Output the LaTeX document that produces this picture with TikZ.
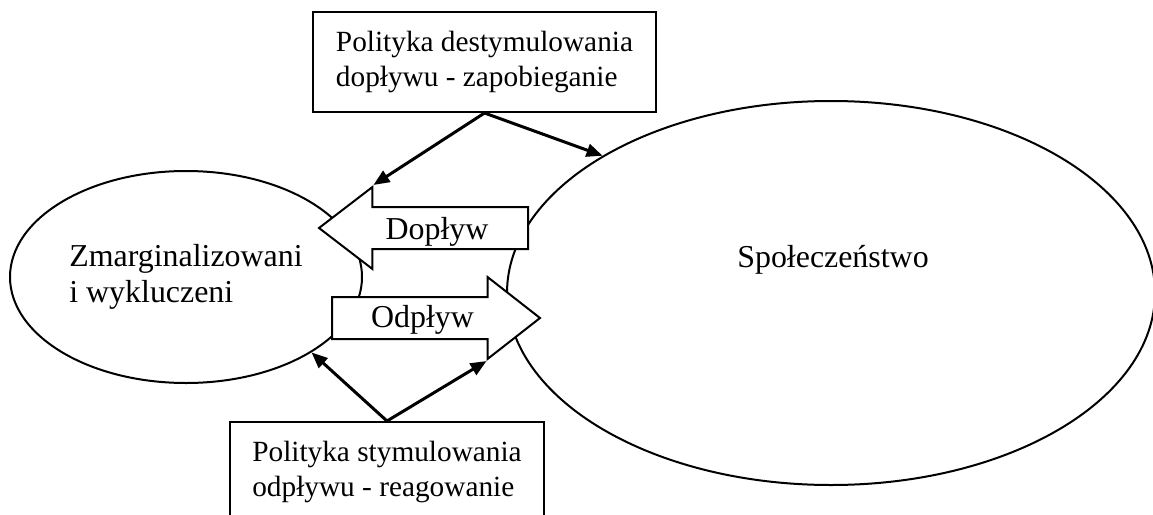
\documentclass[tikz,border=0pt]{standalone}
\usepackage{fontspec}
\setmainfont{Liberation Serif}
\usepackage{tikz}
\usetikzlibrary{arrows.meta, shapes.geometric, shapes.arrows}
\newcommand{\boxfont}{\fontsize{29.3}{34.5}\selectfont}
\newcommand{\mainfont}{\fontsize{31.9}{36.7}\selectfont}

\begin{document}
\begin{tikzpicture}[x=1pt, y=-1pt,
  group/.style={draw, ellipse, line width=2pt, inner sep=0pt},
  policy/.style={draw, fill=white, line width=2pt, align=left, font=\boxfont,
    minimum height=100pt, inner sep=0pt},
  flow/.style={draw, fill=white, single arrow, line width=2pt, inner xsep=0pt,
    inner ysep=20pt, minimum height=#1, single arrow head extend=20pt, anchor=tail},
  link/.style={line width=3pt, -{Triangle[length=16pt, width=13pt]}},
]
  \useasboundingbox (0,0) rectangle (1153,514);

  % the two groups
  \node[group, minimum width=352pt, minimum height=212pt, align=left, font=\mainfont]
    (zmarg) at (186,277) {Zmarginalizowani\\i wykluczeni};
  \node[group, minimum width=648pt, minimum height=384pt] (spol) at (831,293) {};
  \node[font=\mainfont, anchor=base] (spoltxt) at (833,267) {Społeczeństwo};

  % flows between them
  \node[flow=209pt, shape border rotate=180, single arrow tip angle=75]
    (dop) at (529,228) {};
  \node[flow=208pt, single arrow tip angle=76] (odp) at (331,318) {};
  \node[font=\mainfont, anchor=base] (doptxt) at (437,239) {Dopływ};
  \node[font=\mainfont, anchor=base] (odptxt) at (422.5,327) {Odpływ};

  % policies
  \node[policy, minimum width=343pt] (prev) at (484.5,62)
    {Polityka destymulowania\\dopływu - zapobieganie};
  \node[policy, minimum width=314pt] (react) at (387,472)
    {Polityka stymulowania\\odpływu - reagowanie};

  \draw[link] (prev.south) -- (dop.after tip);
  \draw[link] (prev.south) -- (spol.149);
  \draw[link] (react.north) -- (zmarg.-31);
  \draw[link] (react.north) -- (odp.after tip);
\end{tikzpicture}
\end{document}
